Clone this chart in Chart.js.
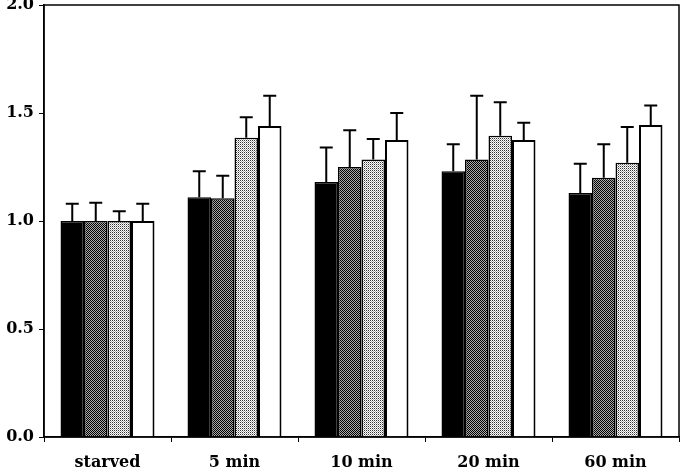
<!DOCTYPE html>
<html>
<head>
<meta charset="utf-8">
<script src="https://cdn.jsdelivr.net/npm/chart.js@4"></script>
<style>
  html, body { margin: 0; padding: 0; background: #fff; }
  #wrap { width: 684px; height: 476px; }
</style>
</head>
<body>
<div id="wrap"><canvas id="myChart" width="684" height="476"></canvas></div>
<script>
// categories and values
var categories = ['starved', '5 min', '10 min', '20 min', '60 min'];
var yTicks = [0.0, 0.5, 1.0, 1.5, 2.0];

var black_vals = [1.00, 1.11, 1.18, 1.23, 1.13];
var black_err  = [0.08, 0.12, 0.16, 0.125, 0.135];

var dark_vals  = [1.00, 1.105, 1.25, 1.285, 1.20];
var dark_err   = [0.085, 0.105, 0.17, 0.295, 0.155];

var light_vals = [1.00, 1.385, 1.285, 1.395, 1.27];
var light_err  = [0.045, 0.095, 0.095, 0.155, 0.165];

var white_vals = [1.00, 1.44, 1.375, 1.375, 1.445];
var white_err  = [0.08, 0.14, 0.125, 0.08, 0.09];

// dot patterns like the print screens
function makePattern(cells) {
    var c = document.createElement('canvas');
    c.width = cells[0].length;
    c.height = cells.length;
    var g = c.getContext('2d');
    for (var y = 0; y < cells.length; y++) {
        for (var x = 0; x < cells[y].length; x++) {
            g.fillStyle = cells[y][x];
            g.fillRect(x, y, 1, 1);
        }
    }
    return document.getElementById('myChart').getContext('2d').createPattern(c, 'repeat');
}

var darkPattern = makePattern([
    ['#000', '#aaa'],
    ['#aaa', '#000']
]);
var lightPattern = makePattern([
    ['#333', '#fff'],
    ['#fff', '#aaa']
]);

var errors = [black_err, dark_err, light_err, white_err];

// draws the upward error bars with a cap
var errorBars = {
    id: 'errorBars',
    afterDatasetsDraw: function (chart) {
        var ctx = chart.ctx;
        var y = chart.scales.y;
        ctx.save();
        ctx.strokeStyle = '#000';
        ctx.lineWidth = 2;
        chart.data.datasets.forEach(function (ds, i) {
            var meta = chart.getDatasetMeta(i);
            meta.data.forEach(function (bar, j) {
                var top = y.getPixelForValue(ds.data[j] + errors[i][j]);
                ctx.beginPath();
                ctx.moveTo(bar.x, bar.y);
                ctx.lineTo(bar.x, top);
                ctx.moveTo(bar.x - 6.5, top);
                ctx.lineTo(bar.x + 6.5, top);
                ctx.stroke();
            });
        });
        ctx.restore();
    }
};

// box round the plot
var frame = {
    id: 'frame',
    afterDraw: function (chart) {
        var a = chart.chartArea;
        var ctx = chart.ctx;
        ctx.save();
        ctx.strokeStyle = '#000';
        ctx.lineWidth = 1.5;
        ctx.strokeRect(a.left, a.top, a.right - a.left, a.bottom - a.top);
        ctx.restore();
    }
};

var labelFont = { family: 'DejaVu Serif', size: 16, weight: 'bold' };

var ctx = document.getElementById('myChart').getContext('2d');
var chart = new Chart(ctx, {
    type: 'bar',
    data: {
        labels: categories,
        datasets: [
            { data: black_vals, backgroundColor: '#000', borderColor: '#000', borderWidth: 1.5 },
            { data: dark_vals, backgroundColor: darkPattern, borderColor: '#000', borderWidth: 1.5 },
            { data: light_vals, backgroundColor: lightPattern, borderColor: '#000', borderWidth: 1.5 },
            { data: white_vals, backgroundColor: '#fff', borderColor: '#000', borderWidth: 2 }
        ]
    },
    options: {
        responsive: false,
        animation: false,
        devicePixelRatio: 1,
        layout: { padding: { top: 5, right: 5, left: 0, bottom: 0 } },
        plugins: { legend: { display: false }, tooltip: { enabled: false } },
        datasets: { bar: { categoryPercentage: 0.74, barPercentage: 1.0 } },
        scales: {
            x: {
                grid: { drawOnChartArea: false, drawTicks: true, tickLength: 5, color: '#000', offset: true },
                border: { color: '#000', width: 1.5 },
                ticks: { color: '#000', font: labelFont, padding: 11, maxRotation: 0 },
                afterFit: function (scale) {
                    scale.height = 39;
                    scale.paddingLeft = 0;
                    scale.paddingRight = 0;
                }
            },
            y: {
                min: 0,
                max: 2,
                afterBuildTicks: function (scale) {
                    scale.ticks = yTicks.map(function (v) { return { value: v }; });
                },
                grid: { drawOnChartArea: false, drawTicks: true, tickLength: 5, color: '#000' },
                border: { color: '#000', width: 1.5 },
                ticks: {
                    color: '#000',
                    font: labelFont,
                    padding: 5,
                    callback: function (v) { return Number(v).toFixed(1); }
                },
                afterFit: function (scale) {
                    scale.width = 44;
                    scale.paddingTop = 0;
                    scale.paddingBottom = 0;
                }
            }
        }
    },
    plugins: [errorBars, frame]
});
</script>
</body>
</html>
